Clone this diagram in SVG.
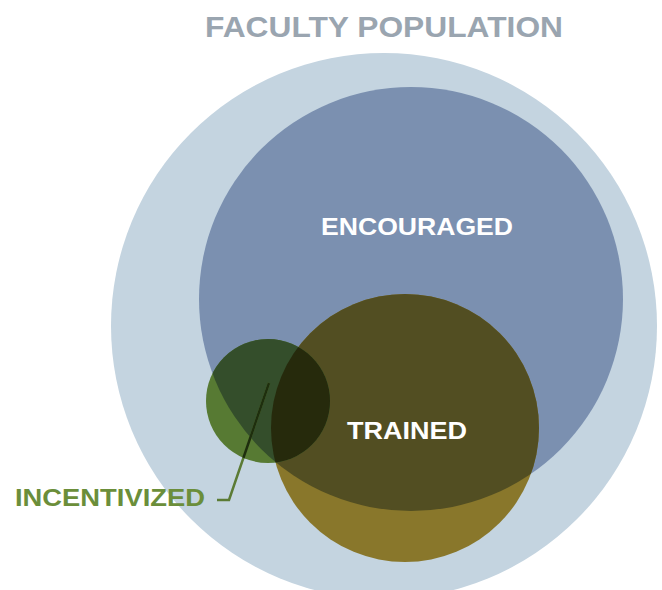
<svg xmlns="http://www.w3.org/2000/svg" width="662" height="590" viewBox="0 0 662 590">
<style>
.lbl{font-family:"Liberation Sans",Arial,sans-serif;font-weight:bold;}
</style>
<defs>
<clipPath id="cEnc"><circle cx="411" cy="299" r="212"/></clipPath>
<clipPath id="cTr"><circle cx="405" cy="428" r="134"/></clipPath>
<clipPath id="cInc"><circle cx="268" cy="401" r="62"/></clipPath>
</defs>
<rect width="662" height="590" fill="#ffffff"/>
<g id="faculty">
<circle cx="384" cy="326" r="273" fill="#c4d4e0"/>
<text class="lbl" x="384" y="37" text-anchor="middle" font-size="30" fill="#9aa5b0" textLength="358" lengthAdjust="spacingAndGlyphs">FACULTY POPULATION</text>
</g>
<g id="encouraged">
<circle cx="411" cy="299" r="212" fill="#7b90b0"/>
<text class="lbl" x="417" y="235" text-anchor="middle" font-size="24" fill="#ffffff" textLength="192" lengthAdjust="spacingAndGlyphs">ENCOURAGED</text>
</g>
<g id="trained">
<circle cx="405" cy="428" r="134" fill="#89772b"/>
<circle cx="411" cy="299" r="212" fill="#524e22" clip-path="url(#cTr)"/>
</g>
<g id="incentivized">
<circle cx="268" cy="401" r="62" fill="#577a33"/>
<circle cx="411" cy="299" r="212" fill="#344e2b" clip-path="url(#cInc)"/>
<g clip-path="url(#cInc)"><circle cx="405" cy="428" r="134" fill="#262a0c"/></g>
<text class="lbl" x="15" y="506" font-size="24.5" fill="#6b8e3a" textLength="190" lengthAdjust="spacingAndGlyphs">INCENTIVIZED</text>
</g>
<g id="trained-label">
<text class="lbl" x="407" y="439" text-anchor="middle" font-size="24" fill="#ffffff" textLength="120" lengthAdjust="spacingAndGlyphs">TRAINED</text>
</g>
<g id="connectors" fill="none" stroke-width="2.5">
<polyline points="269,383 229,500 217,500" stroke="#5b7b35"/>
<polyline points="269,383 229,500" stroke="#1e2e0e" clip-path="url(#cInc)"/>
</g>
</svg>
